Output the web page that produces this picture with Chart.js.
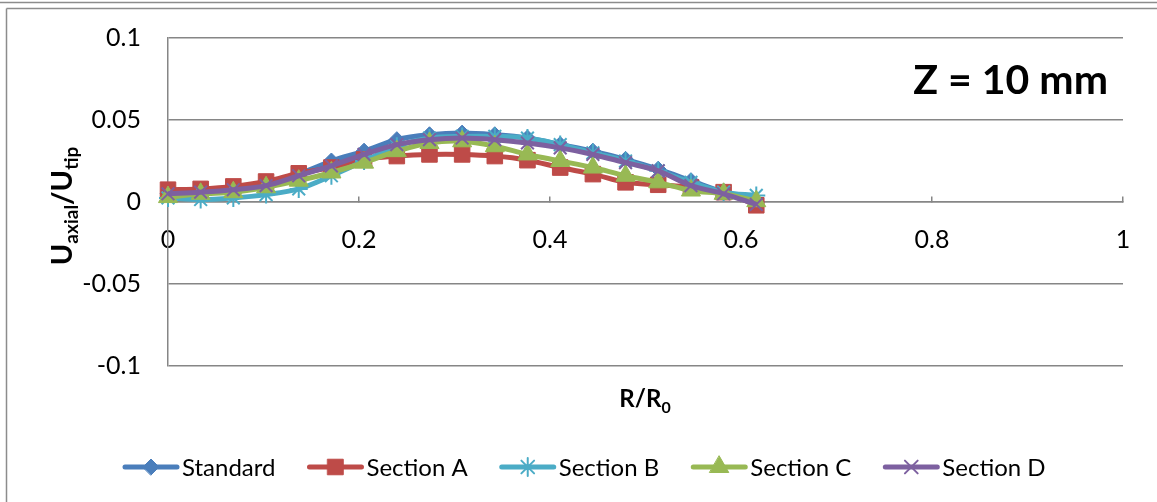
<!DOCTYPE html>
<html><head><meta charset="utf-8">
<script src="https://cdn.jsdelivr.net/npm/chart.js@4.4.0/dist/chart.umd.min.js"></script>
<style>html,body{margin:0;padding:0;background:#fff;overflow:hidden}canvas{display:block}</style>
</head><body>
<canvas id="c" width="1157" height="502"></canvas>
<script>
// ---- data ----
const radialPositions = [0, 0.0342, 0.0684, 0.1027, 0.1369, 0.1711, 0.2053, 0.2396, 0.2738, 0.3080, 0.3422, 0.3764, 0.4107, 0.4449, 0.4791, 0.5133, 0.5476, 0.5818, 0.6160];
const standard = [0.005, 0.006, 0.007, 0.010, 0.017, 0.025, 0.031, 0.038, 0.041, 0.042, 0.041, 0.039, 0.035, 0.031, 0.026, 0.020, 0.013, 0.006, 0.000];
const sectionA = [0.0075, 0.008, 0.0095, 0.0125, 0.0175, 0.021, 0.026, 0.028, 0.029, 0.029, 0.028, 0.0255, 0.021, 0.017, 0.012, 0.0105, 0.009, 0.006, -0.002];
const sectionB = [0.0025, 0.0015, 0.0025, 0.0045, 0.008, 0.016, 0.025, 0.034, 0.039, 0.040, 0.040, 0.039, 0.035, 0.030, 0.025, 0.019, 0.012, 0.006, 0.004];
const sectionC = [0.003, 0.005, 0.006, 0.009, 0.013, 0.018, 0.024, 0.031, 0.036, 0.037, 0.034, 0.029, 0.025, 0.021, 0.016, 0.012, 0.007, 0.005, 0.0005];
const sectionD = [0.005, 0.006, 0.0075, 0.010, 0.016, 0.022, 0.029, 0.035, 0.038, 0.039, 0.038, 0.036, 0.033, 0.029, 0.024, 0.019, 0.010, 0.005, -0.0015];
const seriesNames = ['Standard', 'Section A', 'Section B', 'Section C', 'Section D'];
const xTickLabels = ['0', '0.2', '0.4', '0.6', '0.8', '1'];
const yTickLabels = ['-0.1', '-0.05', '0', '0.05', '0.1'];
const annotationText = 'Z = 10 mm';

// ---- styles ----
const colors = ['#4A7EBB', '#BE4B48', '#4BACC6', '#98B954', '#7D60A0'];
const markers = ['rectRot', 'rect', 'star', 'triangle', 'crossRot'];
const radii = [8, 11, 9, 11, 9];
const FONT = 'Lato';
const allSeries = [standard, sectionA, sectionB, sectionC, sectionD];

const datasets = allSeries.map((vals, k) => {
  const stroke = markers[k] === 'star' || markers[k] === 'crossRot';
  return {
    label: seriesNames[k],
    data: radialPositions.map((x, i) => ({x: x, y: vals[i]})),
    borderColor: colors[k],
    backgroundColor: colors[k],
    borderWidth: 5,
    tension: 0.35,
    pointStyle: markers[k],
    pointRadius: radii[k],
    pointHoverRadius: radii[k],
    pointBackgroundColor: colors[k],
    pointBorderColor: colors[k],
    pointBorderWidth: stroke ? 2 : 1,
    clip: false,
    order: 5 - k
  };
});

function drawRich(ctx, parts, x0, baseY, center) {
  let total = 0;
  parts.forEach(p => { ctx.font = 'bold ' + p.size + 'px ' + FONT; p.w = ctx.measureText(p.t).width; total += p.w; });
  let x = center ? x0 - total / 2 : x0;
  ctx.textAlign = 'left';
  ctx.textBaseline = 'alphabetic';
  parts.forEach(p => { ctx.font = 'bold ' + p.size + 'px ' + FONT; ctx.fillText(p.t, x, baseY + p.dy); x += p.w; });
}

const decorPlugin = {
  id: 'decor',
  beforeDraw(chart) {
    const ctx = chart.ctx;
    ctx.save();
    ctx.fillStyle = '#fff';
    ctx.fillRect(0, 0, chart.width, chart.height);
    ctx.strokeStyle = '#8c8c8c';
    ctx.lineWidth = 1.5;
    ctx.beginPath();
    ctx.moveTo(0, 2.5); ctx.lineTo(chart.width, 2.5);
    ctx.moveTo(6.5, 8.5); ctx.lineTo(chart.width, 8.5);
    ctx.moveTo(6.5, 8.5); ctx.lineTo(6.5, chart.height);
    ctx.stroke();
    ctx.restore();
  },
  afterDraw(chart) {
    const ctx = chart.ctx;
    ctx.save();
    ctx.fillStyle = '#000';
    // y axis title
    ctx.save();
    ctx.translate(72, 206);
    ctx.rotate(-Math.PI / 2);
    drawRich(ctx, [
      {t: 'U', size: 29, dy: 0}, {t: 'axial', size: 19, dy: 6},
      {t: '/U', size: 29, dy: 0}, {t: 'tip', size: 19, dy: 6}
    ], 0, 0, true);
    ctx.restore();
    // x axis title
    drawRich(ctx, [{t: 'R/R', size: 24, dy: 0}, {t: '0', size: 16, dy: 6}], 645, 407, true);
    // annotation
    ctx.font = 'bold 41px ' + FONT;
    ctx.textAlign = 'right';
    ctx.textBaseline = 'alphabetic';
    ctx.fillText(annotationText, 1108, 94);
    // legend
    let x = 123;
    const ly = 467;
    const lf = '24px ' + FONT;
    chart.data.datasets.forEach((ds, k) => {
      ctx.strokeStyle = ds.borderColor;
      ctx.lineWidth = 5;
      ctx.lineCap = 'round';
      ctx.beginPath();
      ctx.moveTo(x + 2, ly); ctx.lineTo(x + 54, ly);
      ctx.stroke();
      ctx.fillStyle = ds.pointBackgroundColor;
      ctx.strokeStyle = ds.pointBorderColor;
      ctx.lineWidth = ds.pointBorderWidth;
      Chart.helpers.drawPoint(ctx, {pointStyle: ds.pointStyle, radius: ds.pointRadius, rotation: 0, borderWidth: ds.pointBorderWidth}, x + 28, ly);
      ctx.fillStyle = '#000';
      ctx.font = lf;
      ctx.textAlign = 'left';
      ctx.textBaseline = 'middle';
      ctx.fillText(ds.label, x + 59, ly + 1);
      x += 59 + ctx.measureText(ds.label).width + 32;
    });
    ctx.restore();
  }
};

new Chart(document.getElementById('c'), {
  type: 'line',
  data: {datasets: datasets},
  options: {
    responsive: false,
    animation: false,
    events: [],
    layout: {padding: {left: 0, top: 38, right: 34, bottom: 136}},
    plugins: {legend: {display: false}, tooltip: {enabled: false}, title: {display: false}},
    scales: {
      x: {
        type: 'linear',
        position: {y: 0},
        min: 0, max: 1,
        afterFit: s => { s.paddingLeft = 0; s.paddingRight = 0; s.paddingTop = 0; s.paddingBottom = 0; },
        ticks: {
          stepSize: 0.2,
          padding: 29,
          color: '#000',
          font: {family: FONT, size: 25},
          maxRotation: 0,
          callback: v => xTickLabels[Math.round(v / 0.2)]
        },
        grid: {drawOnChartArea: false, drawTicks: true, tickLength: -6, color: '#868686', lineWidth: 1.5},
        border: {display: true, color: '#868686', width: 1.5}
      },
      y: {
        type: 'linear',
        min: -0.1, max: 0.1,
        afterFit: s => { s.width = 168; s.paddingTop = 0; s.paddingBottom = 0; },
        ticks: {
          stepSize: 0.05,
          padding: 27,
          color: '#000',
          font: {family: FONT, size: 25},
          callback: v => yTickLabels[Math.round((v + 0.1) / 0.05)]
        },
        grid: {drawTicks: false, color: '#868686', lineWidth: 1.5},
        border: {display: true, color: '#868686', width: 1.5}
      }
    }
  },
  plugins: [decorPlugin]
});
</script>
</body></html>
